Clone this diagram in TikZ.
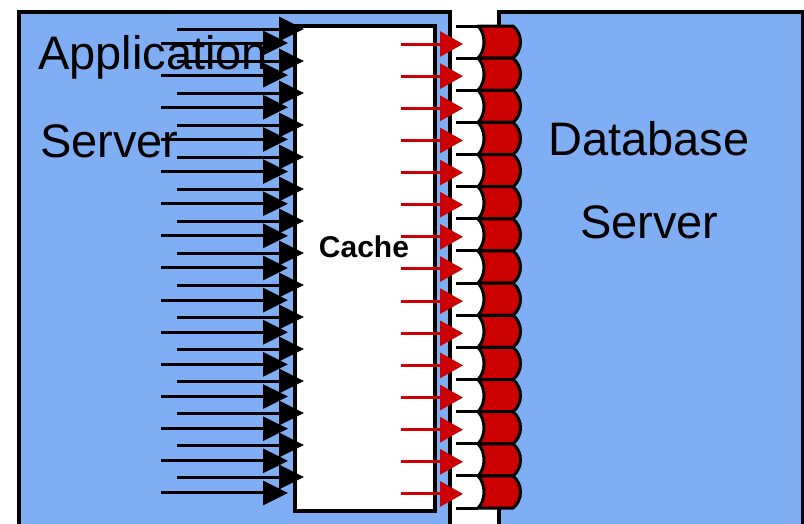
\documentclass[tikz,border=0pt]{standalone}
\usepackage{fontspec}
\setmainfont{Liberation Sans}
\usepackage{xcolor}
\usepackage{tikz}
\usetikzlibrary{calc,arrows.meta}

\definecolor{srvblue}{RGB}{128,174,245}
\definecolor{poolred}{RGB}{204,0,0}

\begin{document}
\begin{tikzpicture}[x=1pt,y=-1pt,
  server/.style={draw=black,line width=4pt,fill=srvblue,anchor=north west,inner sep=0pt},
  big/.style={font=\fontsize{47}{47}\selectfont,inner sep=0pt,anchor=base west},
  req/.style={line width=3pt,-{Triangle[length=25pt,width=24pt]}},
  conn/.style={draw=poolred,line width=3pt,-{Triangle[length=23pt,width=25pt]}},
  drum/.style={fill=poolred,draw=black,line width=3pt,line join=round}]
  \useasboundingbox (0,0) rectangle (804,523);
  \clip (0,0) rectangle (804,523);

  \node[server,minimum width=431pt,minimum height=540pt] (app) at (17,10) {};
  \node[server,minimum width=304pt,minimum height=540pt] (db) at (497,10) {};

  \node[big] (appl1) at (38,69) {Application};
  \node[big] (appl2) at (40,157) {Server};
  \node[big] (dbl1) at (548,155) {Database};
  \node[big] (dbl2) at (580,238) {Server};

  \node[draw=black,line width=4pt,fill=white,anchor=north west,inner sep=0pt,
        minimum width=140pt,minimum height=485pt] (cache) at (293,24) {};
  \node[font=\fontsize{30}{30}\selectfont\bfseries,inner sep=0pt,anchor=base]
        (cachelbl) at (364,257) {Cache};

  % requests into the cache
  \foreach \i in {0,...,14} {
    \coordinate (s\i) at (177,29+32*\i);
    \coordinate (t\i) at (304,29+32*\i);
    \coordinate (u\i) at (161,43+32.14*\i);
    \coordinate (v\i) at (288,43+32.14*\i);
    \draw[req] (s\i) -- (t\i);
    \draw[req] (u\i) -- (v\i);
  }

  % connection pool
  \foreach \i in {0,...,14} {
    \pgfmathsetmacro{\top}{26+32.14*\i}
    \pgfmathsetmacro{\bot}{\top+32.14}
    \draw[line width=3pt] (456,\top) -- (478,\top);
    \draw[line width=3pt] (456,\bot) -- (478,\bot);
    \draw[drum] (478,\top) -- (513,\top)
      .. controls (523,\top+8) and (523,\bot-8) .. (513,\bot) -- (478,\bot)
      .. controls (486,\bot-8) and (486,\top+8) .. (478,\top) -- cycle;
    \coordinate (p\i) at (401,44+32.14*\i);
    \coordinate (q\i) at (463,44+32.14*\i);
    \draw[conn] (p\i) -- (q\i);
  }
\end{tikzpicture}
\end{document}
